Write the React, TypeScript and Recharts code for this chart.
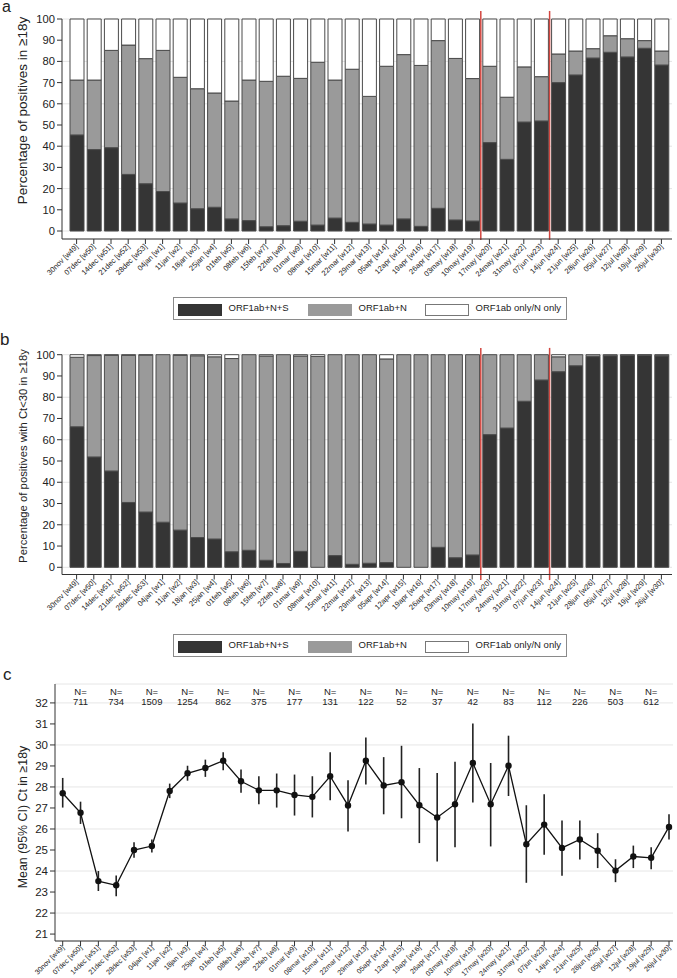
import {
  BarChart,
  Bar,
  XAxis,
  YAxis,
  CartesianGrid,
  ReferenceLine,
  LineChart,
  Line,
  ErrorBar,
  LabelList,
} from "recharts";

const FONT = '"Liberation Sans", Arial, Helvetica, sans-serif';

const weeks = [
  "30nov [w49]", "07dec [w50]", "14dec [w51]", "21dec [w52]", "28dec [w53]",
  "04jan [w1]", "11jan [w2]", "18jan [w3]", "25jan [w4]", "01feb [w5]",
  "08feb [w6]", "15feb [w7]", "22feb [w8]", "01mar [w9]", "08mar [w10]",
  "15mar [w11]", "22mar [w12]", "29mar [w13]", "05apr [w14]", "12apr [w15]",
  "19apr [w16]", "26apr [w17]", "03may [w18]", "10may [w19]", "17may [w20]",
  "24may [w21]", "31may [w22]", "07jun [w23]", "14jun [w24]", "21jun [w25]",
  "28jun [w26]", "05jul [w27]", "12jul [w28]", "19jul [w29]", "26jul [w30]",
];

// panel a: % of positives (ORF1ab+N+S / ORF1ab+N / ORF1ab only or N only)
const darkA = [45.3, 38.4, 39.3, 26.7, 22.3, 18.6, 13.2, 10.5, 11.2, 5.7, 4.9, 2.0, 2.5, 4.6, 2.8, 6.1, 4.1, 3.3, 2.8, 5.7, 2.2, 10.7, 5.2, 4.7, 41.7, 33.8, 51.4, 51.9, 70.0, 73.6, 81.6, 84.3, 82.1, 86.2, 78.3];
const greyA = [25.9, 32.8, 45.9, 61.0, 59.0, 66.6, 59.3, 56.6, 53.9, 55.6, 66.3, 68.6, 70.5, 67.4, 76.8, 65.1, 72.2, 60.2, 74.9, 77.5, 75.9, 79.1, 76.2, 67.2, 36.0, 29.3, 26.0, 20.9, 13.5, 11.3, 4.4, 7.8, 8.6, 3.6, 6.6];
const whiteA = [28.8, 28.8, 14.8, 12.3, 18.7, 14.8, 27.5, 32.9, 34.9, 38.7, 28.8, 29.4, 27.0, 28.0, 20.4, 28.8, 23.7, 36.5, 22.3, 16.8, 21.9, 10.2, 18.6, 28.1, 22.3, 36.9, 22.6, 27.2, 16.5, 15.1, 14.0, 7.9, 9.3, 10.2, 15.1];

// panel b: % of positives with Ct<30
const darkB = [66.1, 51.9, 45.3, 30.5, 26.0, 21.2, 17.5, 14.0, 13.3, 7.3, 8.0, 3.3, 1.8, 7.5, 0, 5.5, 1.4, 1.9, 2.2, 0, 0, 9.4, 4.5, 5.8, 62.4, 65.5, 78.1, 88.1, 92.0, 94.8, 99.1, 99.5, 99.7, 99.8, 99.4];
const greyB = [32.7, 47.7, 54.4, 69.2, 73.8, 78.8, 82.2, 85.5, 85.7, 90.9, 92.0, 96.1, 98.2, 91.9, 99.2, 94.5, 98.6, 98.1, 95.8, 100, 100, 90.6, 95.5, 94.2, 37.6, 34.5, 21.9, 11.9, 7.0, 5.2, 0.9, 0.5, 0.3, 0.2, 0.3];
const whiteB = [1.2, 0.4, 0.3, 0.3, 0.2, 0, 0.3, 0.5, 1.0, 1.8, 0, 0.6, 0, 0.6, 0.8, 0, 0, 0, 2.0, 0, 0, 0, 0, 0, 0, 0, 0, 0, 1.0, 0, 0, 0, 0, 0, 0.3];

// panel c: mean Ct with 95% CI
const ctMean = [27.70, 26.77, 23.52, 23.32, 25.0, 25.19, 27.81, 28.65, 28.9, 29.25, 28.27, 27.84, 27.84, 27.62, 27.53, 28.51, 27.12, 29.25, 28.07, 28.23, 27.13, 26.55, 27.18, 29.14, 27.18, 29.01, 25.28, 26.21, 25.1, 25.5, 24.97, 24.02, 24.69, 24.63, 26.1];
const ctLow = [27.02, 26.24, 23.05, 22.8, 24.63, 24.88, 27.47, 28.3, 28.48, 28.8, 27.73, 27.18, 27.02, 26.64, 26.55, 27.37, 25.88, 28.12, 26.7, 26.51, 25.33, 24.45, 25.13, 27.26, 25.17, 27.57, 23.44, 24.77, 23.77, 24.55, 24.14, 23.47, 24.14, 24.09, 25.5];
const ctHigh = [28.43, 27.3, 24.0, 23.79, 25.37, 25.5, 28.16, 29.01, 29.3, 29.65, 28.83, 28.51, 28.64, 28.59, 28.51, 29.65, 28.32, 30.36, 29.42, 29.96, 28.9, 28.67, 29.2, 31.02, 29.14, 30.44, 27.13, 27.65, 26.41, 26.41, 25.8, 24.56, 25.21, 25.13, 26.7];
// N shown above every second week, starting with 07dec
const nCounts = [711, 734, 1509, 1254, 862, 375, 177, 131, 122, 52, 37, 42, 83, 112, 226, 503, 612];

const pctTicks = [0, 10, 20, 30, 40, 50, 60, 70, 80, 90, 100];
const ctTicks = [21, 22, 23, 24, 25, 26, 27, 28, 29, 30, 31, 32];
const variantWeeks = ["17may [w20]", "14jun [w24]"];

const dataA = weeks.map((w, i) => ({ week: w, dark: darkA[i], grey: greyA[i], white: whiteA[i] }));
const dataB = weeks.map((w, i) => ({ week: w, dark: darkB[i], grey: greyB[i], white: whiteB[i] }));
const dataC = weeks.map((w, i) => ({
  week: w,
  mean: ctMean[i],
  ci: [ctMean[i] - ctLow[i], ctHigh[i] - ctMean[i]],
  n: i % 2 === 1 ? nCounts[(i - 1) / 2] : null,
}));

const C_TOP = 24;

function WeekTick(props: any) {
  const { x, y, payload, fs = 7.5 } = props;
  return (
    <g transform={`translate(${x + 2},${y + 1})`}>
      <text x={0} y={0} textAnchor="end" transform="rotate(-45)" fontSize={fs} fill="#222" fontFamily={FONT}>
        {payload.value}
      </text>
    </g>
  );
}

function NLabel(props: any) {
  const { x, value } = props;
  if (value == null) return null;
  return (
    <g fontSize={9.5} fill="#222" fontFamily={FONT} textAnchor="middle">
      <text x={x} y={C_TOP + 11}>N=</text>
      <text x={x} y={C_TOP + 21}>{value}</text>
    </g>
  );
}

function StackedPanel({ data, top, height, margin, yPad, redSpan }: any) {
  return (
    <div style={{ position: "absolute", left: 0, top }}>
      <BarChart width={677} height={height} data={data} margin={margin} barSize={14}>
        <CartesianGrid vertical={false} stroke="#e4e4e4" />
        <XAxis
          dataKey="week"
          interval={0}
          tick={<WeekTick />}
          tickSize={5}
          tickMargin={2}
          height={50}
          padding={{ left: 6, right: 2 }}
          stroke="#333"
        />
        <YAxis
          domain={[0, 100]}
          ticks={pctTicks}
          width={62}
          tickSize={5}
          tickMargin={2}
          padding={{ top: 0, bottom: yPad }}
          stroke="#333"
          tick={{ fontSize: 11.2, fill: "#222", fontFamily: FONT }}
        />
        <Bar dataKey="dark" stackId="s" fill="#353535" stroke="#4a4a4a" strokeWidth={1} isAnimationActive={false} />
        <Bar dataKey="grey" stackId="s" fill="#9a9a9a" stroke="#4a4a4a" strokeWidth={1} isAnimationActive={false} />
        <Bar dataKey="white" stackId="s" fill="#ffffff" stroke="#4a4a4a" strokeWidth={1} isAnimationActive={false} />
        {variantWeeks.map((w) => (
          <ReferenceLine
            key={w}
            segment={[{ x: w, y: redSpan[0] }, { x: w, y: redSpan[1] }]}
            position="start"
            ifOverflow="visible"
            stroke="#d2463f"
            strokeWidth={1.5}
          />
        ))}
      </BarChart>
    </div>
  );
}

function Swatch({ left, fill, border }: any) {
  return (
    <div
      style={{
        position: "absolute",
        left,
        top: 5.5,
        width: 44,
        height: 12,
        background: fill,
        border: `1px solid ${border}`,
        boxSizing: "border-box",
      }}
    />
  );
}

function LegendBox({ top }: { top: number }) {
  const txt = { position: "absolute" as const, top: 4, fontSize: 9.5, color: "#222", fontFamily: FONT, whiteSpace: "nowrap" as const };
  return (
    <div
      style={{
        position: "absolute",
        left: 172.5,
        top,
        width: 394,
        height: 23,
        border: "1px solid #8a8a8a",
        boxSizing: "border-box",
        background: "#fff",
      }}
    >
      <Swatch left={4} fill="#353535" border="#333" />
      <span style={{ ...txt, left: 55 }}>ORF1ab+N+S</span>
      <Swatch left={134} fill="#9a9a9a" border="#9a9a9a" />
      <span style={{ ...txt, left: 185 }}>ORF1ab+N</span>
      <Swatch left={251} fill="#ffffff" border="#777" />
      <span style={{ ...txt, left: 302 }}>ORF1ab only/N only</span>
    </div>
  );
}

export default function App() {
  return (
    <div style={{ position: "absolute", left: 0, top: 0, width: 677, height: 978, background: "#fff", fontFamily: FONT, overflow: "hidden" }}>
      <StackedPanel
        data={dataA}
        top={0}
        height={290}
        margin={{ top: 19, right: 5, left: 0, bottom: 1 }}
        yPad={8}
        redSpan={[-4.2, 103.8]}
      />
      <LegendBox top={297} />

      <StackedPanel
        data={dataB}
        top={330}
        height={300}
        margin={{ top: 24.7, right: 5, left: 0, bottom: 5.5 }}
        yPad={7.2}
        redSpan={[-6, 103.2]}
      />
      <LegendBox top={634} />

      <div style={{ position: "absolute", left: 0, top: 660 }}>
        <LineChart width={677} height={318} data={dataC} margin={{ top: C_TOP, right: 4, left: 0, bottom: 0 }}>
          <CartesianGrid vertical={false} stroke="#e6e6e6" />
          <XAxis
            dataKey="week"
            interval={0}
            tick={<WeekTick fs={7.1} />}
            tickSize={5}
            tickMargin={1}
            height={37}
            padding={{ left: 7.7, right: 4 }}
            stroke="#333"
          />
          <YAxis
            domain={[20.67, 32.9]}
            ticks={ctTicks}
            allowDataOverflow
            width={55}
            tickSize={5}
            tickMargin={2}
            stroke="#333"
            tick={{ fontSize: 11.5, fill: "#222", fontFamily: FONT }}
          />
          <Line
            dataKey="mean"
            stroke="#111"
            strokeWidth={1.3}
            dot={{ r: 3.2, fill: "#111", stroke: "none" }}
            isAnimationActive={false}
          >
            <ErrorBar dataKey="ci" width={0} stroke="#222" strokeWidth={1.6} direction="y" isAnimationActive={false} />
            <LabelList dataKey="n" content={<NLabel />} />
          </Line>
        </LineChart>
      </div>

      <svg width={677} height={978} style={{ position: "absolute", left: 0, top: 0, pointerEvents: "none" }} fontFamily={FONT} fill="#222">
        <text x={2} y={12} fontSize={16}>a</text>
        <text x={0} y={345} fontSize={17}>b</text>
        <text x={3} y={680} fontSize={17}>c</text>
        <text transform="translate(27,110.5) rotate(-90)" textAnchor="middle" fontSize={13.5}>
          Percentage of positives in ≥18y
        </text>
        <text transform="translate(27,456) rotate(-90)" textAnchor="middle" fontSize={11.3}>
          Percentage of positives with Ct&lt;30 in ≥18y
        </text>
        <text transform="translate(27,817) rotate(-90)" textAnchor="middle" fontSize={12.4}>
          Mean (95% CI) Ct in ≥18y
        </text>
      </svg>
    </div>
  );
}
